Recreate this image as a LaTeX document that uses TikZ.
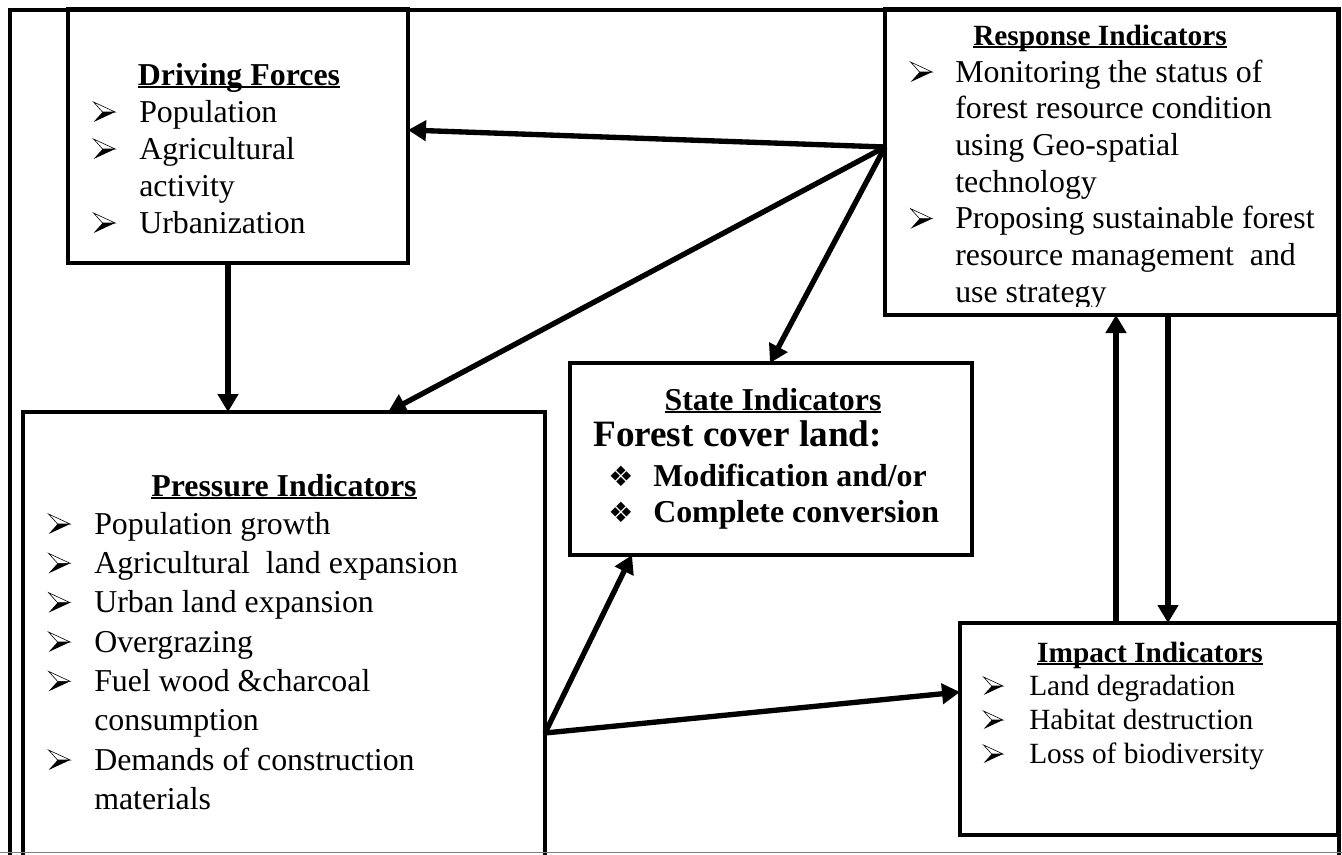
\documentclass[tikz,border=0pt]{standalone}
\usepackage{fontspec}
\setmainfont{Liberation Serif}
\newfontfamily\djv{DejaVu Sans}
\usetikzlibrary{arrows.meta,fit}

\newcommand\ulbox[1]{\setbox0\hbox{#1}\rlap{\rule[-2.4pt]{\wd0}{1.6pt}}\box0}
\newcommand\arrbul[2]{\makebox[#1][l]{\tikz[x=#2pt,y=#2pt,baseline=0pt]{%
  \filldraw[fill=white,draw=black,line width=0.45pt,line join=miter] (0,1) -- (1.08,0.5) -- (0.45,0.5) -- cycle;
  \fill[black] (0,0) -- (1.08,0.5) -- (0.45,0.5) -- cycle;}}}
\newcommand\dmbul[1]{\makebox[#1][l]{\djv\fontsize{21}{21}\selectfont ❖}}
\newcommand\nobul[1]{\hspace*{#1}}

\tikzset{
  box/.style={draw, line width=3.2pt, inner sep=0pt, outer sep=0pt},
  conn/.style={line width=4pt, -{Triangle[length=13.5pt,width=15pt]}},
  lst/.style={inner sep=0pt, anchor=base west},
  ttl/.style={inner sep=0pt, anchor=base, font=\bfseries\fontsize{23.9}{27}\selectfont},
  ttls/.style={inner sep=0pt, anchor=base, font=\bfseries\fontsize{22}{25}\selectfont},
}

\begin{document}
\begin{tikzpicture}[x=0.75pt,y=-0.75pt]
\useasboundingbox (0,0) rectangle (1342,854);
\fill[white] (0,0) rectangle (1342,854);

% outer frame
\draw[line width=3pt] (9.5,880) -- (9.5,9.5) -- (1338.5,9.5) -- (1338.5,880);

% boxes
\node[box, fit={(68,9.5) (408,263)}] (drv) {};
\node[box, fit={(885,9.5) (1338.5,315)}] (resp) {};
\node[box, fit={(570,363) (972,555)}] (st) {};
\node[box, fit={(23,412) (545,890)}] (prs) {};
\node[box, fit={(960,623) (1338.5,835)}] (imp) {};

% Driving Forces
\node[ttl] (drvt) at (239,85) {\ulbox{Driving Forces}};
\node[lst, font=\fontsize{23.9}{27.75}\selectfont] (drvl) at (93,122) {%
\begin{tabular}[t]{@{}l@{}}
\arrbul{34.5pt}{15}Population\\
\arrbul{34.5pt}{15}Agricultural\\
\nobul{34.5pt}activity\\
\arrbul{34.5pt}{15}Urbanization
\end{tabular}};

% Response Indicators
\begin{scope}
\clip (885,9) rectangle (1338,306);
\node[ttls] (respt) at (1100,45) {\ulbox{Response Indicators}};
\node[lst, font=\fontsize{23.9}{27.5}\selectfont] (respl) at (910,82) {%
\begin{tabular}[t]{@{}l@{}}
\arrbul{33.75pt}{15}Monitoring the status of\\
\nobul{33.75pt}forest resource condition\\
\nobul{33.75pt}using Geo-spatial\\
\nobul{33.75pt}technology\\
\arrbul{33.75pt}{15}Proposing sustainable forest\\
\nobul{33.75pt}resource management\ \ and\\
\nobul{33.75pt}use strategy
\end{tabular}};
\end{scope}

% State Indicators
\node[ttl] (stt) at (773,410) {\ulbox{State Indicators}};
\node[lst, font=\bfseries\fontsize{27.9}{30}\selectfont] (stf) at (593,446) {Forest cover land:};
\node[lst, font=\bfseries\fontsize{23.9}{27}\selectfont] (stl) at (608,486) {%
\begin{tabular}[t]{@{}l@{}}
\dmbul{33.75pt}Modification and/or\\
\dmbul{33.75pt}Complete conversion
\end{tabular}};

% Pressure Indicators
\node[ttl] (prst) at (284,496) {\ulbox{Pressure Indicators}};
\node[lst, font=\fontsize{23.9}{29.5}\selectfont] (prsl) at (48,534) {%
\begin{tabular}[t]{@{}l@{}}
\arrbul{34.5pt}{15}Population growth\\
\arrbul{34.5pt}{15}Agricultural\ \ land expansion\\
\arrbul{34.5pt}{15}Urban land expansion\\
\arrbul{34.5pt}{15}Overgrazing\\
\arrbul{34.5pt}{15}Fuel wood \&charcoal\\
\nobul{34.5pt}consumption\\
\arrbul{34.5pt}{15}Demands of construction\\
\nobul{34.5pt}materials
\end{tabular}};

% Impact Indicators
\node[ttls] (impt) at (1150,662) {\ulbox{Impact Indicators}};
\node[lst, font=\fontsize{22}{25.5}\selectfont] (impl) at (983,695) {%
\begin{tabular}[t]{@{}l@{}}
\arrbul{34.5pt}{13.5}Land degradation\\
\arrbul{34.5pt}{13.5}Habitat destruction\\
\arrbul{34.5pt}{13.5}Loss of biodiversity
\end{tabular}};

% connectors
\coordinate (hub) at (resp.west |- 0,147);
\coordinate (pe) at (prs.east |- 0,733);
\draw[conn] (hub) -- (drv.east |- 0,130);
\draw[conn] (hub) -- (prs.north -| 388,0);
\draw[conn] (hub) -- (st.north -| 770,0);
\draw[conn] (drv.south -| 228,0) -- (prs.north -| 228,0);
\draw[conn] (pe) -- (st.south -| 632,0);
\draw[conn] (pe) -- (imp.west |- 0,692);
\draw[conn] (imp.north -| 1116,0) -- (resp.south -| 1116,0);
\draw[conn] (resp.south -| 1168,0) -- (imp.north -| 1168,0);

% bottom edge line
\draw[gray, line width=0.8pt] (0,852.5) -- (1342,852.5);
\end{tikzpicture}
\end{document}
